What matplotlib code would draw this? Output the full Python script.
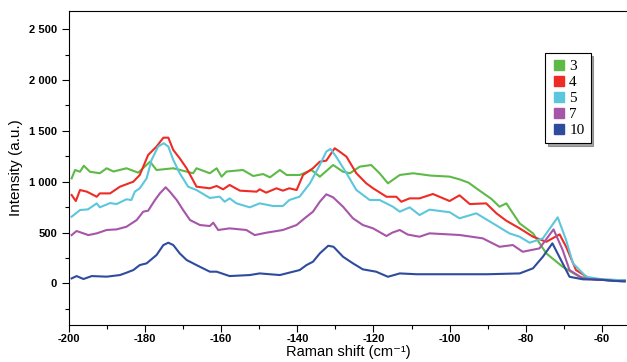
import matplotlib
matplotlib.use('Agg')
import matplotlib.pyplot as plt
from matplotlib.lines import Line2D
from matplotlib.ticker import MultipleLocator, FuncFormatter

# data
labels = ['3', '4', '5', '7', '10']
colors = ['#5dba47', '#ee2b24', '#5cc7dc', '#a755a8', '#2f4b9e']

x3 = [-199.3, -198.4, -197.1, -196.1, -194.5, -191.9, -190.1, -188.3, -184.9, -181.8,
      -178.7, -177.0, -172.6, -167.4, -166.5, -163.0, -161.2, -159.9, -158.6, -154.3,
      -151.6, -149.0, -147.2, -144.6, -142.8, -139.4, -136.3, -134.1, -130.6, -128.0,
      -126.2, -123.6, -120.6, -118.4, -116.2, -113.1, -109.6, -105.0, -100.0, -97.4,
      -95.0, -93.0, -89.0, -86.9, -85.1, -81.6, -78.1, -74.6, -70.3, -65.9, -62.0, -58.0, -54.0]
y3 = [1033, 1115, 1098, 1157, 1098, 1083, 1132, 1100, 1132, 1089,
      1197, 1115, 1132, 1083, 1132, 1083, 1132, 1049, 1100, 1115,
      1056, 1075, 1043, 1115, 1066, 1066, 1115, 1049, 1164, 1098,
      1083, 1148, 1164, 1083, 984, 1066, 1083, 1060, 1050, 1023,
      990, 935, 830, 754, 787, 590, 492, 295, 163, 65, 40, 35, 30]

x4 = [-199.3, -198.2, -197.1, -195.3, -192.7, -191.9, -189.2, -186.6, -183.1, -181.4,
      -179.2, -177.0, -175.2, -173.9, -172.6, -170.9, -169.1, -166.5, -163.0, -161.2,
      -159.5, -157.8, -155.1, -150.7, -149.9, -148.2, -145.5, -143.8, -142.1, -140.2,
      -138.5, -135.9, -134.1, -132.4, -131.1, -130.2, -128.9, -127.1, -124.5, -121.9,
      -120.1, -116.6, -114.0, -112.7, -110.5, -107.9, -104.4, -100.0, -97.4, -94.7,
      -90.4, -87.7, -85.1, -81.6, -78.1, -74.6, -71.1, -69.4, -66.8, -63.3, -60.0, -57.0, -54.0]
y4 = [869, 810, 918, 902, 852, 885, 885, 951, 1000, 1066,
      1263, 1345, 1433, 1433, 1312, 1230, 1132, 951, 935, 958,
      925, 968, 912, 902, 925, 892, 935, 912, 935, 918,
      1066, 1132, 1197, 1207, 1279, 1329, 1296, 1246, 1083, 984,
      935, 852, 852, 803, 836, 836, 879, 810, 866, 780,
      787, 689, 616, 541, 459, 409, 482, 360, 131, 49, 35, 30, 28]

x5 = [-199.3, -197.1, -195.0, -192.7, -191.9, -189.2, -187.5, -184.9, -183.6, -182.7,
      -181.4, -179.6, -178.3, -176.6, -175.1, -173.9, -172.6, -170.9, -168.7, -166.5,
      -163.0, -160.4, -159.1, -157.8, -156.0, -152.5, -149.9, -146.4, -143.8, -142.1,
      -139.4, -136.7, -134.1, -132.4, -131.3, -129.8, -127.1, -124.5, -121.0, -118.4,
      -114.9, -113.1, -110.5, -107.9, -105.3, -100.0, -97.4, -93.0, -88.6, -84.3,
      -81.6, -79.0, -75.5, -71.6, -69.4, -67.6, -64.1, -60.0, -57.0, -54.0]
y5 = [656, 721, 728, 787, 748, 790, 780, 827, 820, 902,
      935, 1033, 1214, 1345, 1378, 1345, 1214, 1083, 951, 918,
      840, 853, 803, 836, 787, 748, 787, 761, 761, 820,
      853, 984, 1164, 1296, 1322, 1246, 1083, 918, 820, 820,
      754, 705, 748, 672, 725, 700, 640, 689, 590, 492,
      459, 400, 443, 650, 426, 197, 65, 40, 35, 30]

x7 = [-199.3, -198.0, -194.9, -192.7, -190.1, -187.5, -184.9, -182.2, -180.5, -179.2,
      -177.4, -176.1, -174.6, -173.5, -171.7, -170.0, -168.2, -165.6, -163.0, -162.1,
      -160.8, -157.8, -153.4, -151.2, -148.2, -143.8, -140.2, -138.1, -135.9, -134.1,
      -132.4, -130.6, -128.0, -125.4, -122.8, -120.1, -116.6, -115.0, -113.1, -111.0,
      -107.9, -105.3, -97.4, -91.3, -86.9, -83.4, -80.8, -76.4, -72.7, -70.3,
      -68.5, -65.0, -60.0, -57.0, -54.0]
y7 = [475, 515, 475, 492, 525, 531, 557, 623, 705, 715,
      820, 886, 945, 902, 820, 721, 623, 574, 564, 597,
      525, 541, 525, 475, 498, 525, 574, 640, 705, 803,
      876, 846, 754, 640, 574, 541, 466, 500, 525, 480,
      459, 492, 476, 443, 360, 377, 311, 344, 531, 328,
      131, 49, 35, 25, 20]

x10 = [-199.3, -198.0, -196.2, -194.0, -190.1, -186.6, -184.9, -183.1, -181.4, -179.6,
       -177.0, -175.2, -173.9, -172.6, -170.9, -169.1, -166.5, -163.0, -161.2, -157.8,
       -152.5, -149.9, -144.6, -141.1, -139.4, -137.6, -135.9, -134.1, -131.9, -130.5,
       -128.0, -125.4, -122.8, -119.3, -116.2, -113.1, -108.7, -100.0, -90.0, -81.6,
       -78.1, -75.5, -73.0, -70.3, -68.5, -65.0, -60.0, -57.0, -54.0]
y10 = [49, 72, 43, 72, 66, 82, 105, 131, 180, 197,
       279, 377, 400, 377, 295, 230, 180, 115, 115, 72,
       82, 98, 82, 115, 131, 180, 213, 295, 370, 360,
       262, 197, 138, 115, 65, 98, 90, 90, 90, 98,
       148, 262, 394, 197, 65, 40, 35, 25, 20]

xs = [x3, x4, x5, x7, x10]
ys = [y3, y4, y5, y7, y10]

plt.rcParams['font.family'] = ['Liberation Sans', 'DejaVu Sans']

fig = plt.figure(figsize=(6.27, 3.62), dpi=100)
ax = fig.add_axes([0.110, 0.102, 0.890, 0.868])

for x, y, c in zip(xs, ys, colors):
    ax.plot(x, y, color=c, lw=1.5)

ax.set_xlim(-200, -53.4)
ax.set_ylim(-410, 2680)

ax.xaxis.set_major_locator(MultipleLocator(20))
ax.xaxis.set_minor_locator(MultipleLocator(10))
ax.yaxis.set_major_locator(MultipleLocator(500))
ax.yaxis.set_minor_locator(MultipleLocator(250))
ax.yaxis.set_major_formatter(FuncFormatter(lambda v, p: f"{int(v):,}".replace(',', ' ')))
ax.xaxis.set_major_formatter(FuncFormatter(lambda v, p: f"{int(v)}"))

ax.tick_params(which='major', length=5, width=0.8, labelsize=8)
ax.tick_params(which='minor', length=3, width=0.8)
ax.tick_params(axis='x', which='major', pad=1.5)
for lab in ax.get_xticklabels() + ax.get_yticklabels():
    lab.set_fontweight('bold')

ax.spines['right'].set_visible(False)

ax.set_ylabel('Intensity (a.u.)', fontsize=11)
ax.set_xlabel('Raman shift (cm\u207b\u00b9)', fontsize=10.5, va='center')
ax.xaxis.set_label_coords(0.5, -0.087)

#######################
# legend with squares #
#######################
handles = [Line2D([], [], marker='s', ls='none', color=c, markersize=7) for c in colors]
leg = ax.legend(handles, labels, loc='upper left', bbox_to_anchor=(0.839, 0.889),
                fancybox=False, edgecolor='black', framealpha=1,
                prop={'family': 'Liberation Serif', 'size': 11},
                handletextpad=0.2, labelspacing=0.15, borderpad=0.4,
                handlelength=1.0, shadow={'color': '0.3'})
leg.get_frame().set_linewidth(0.8)

plt.savefig('out.png', dpi=100)
